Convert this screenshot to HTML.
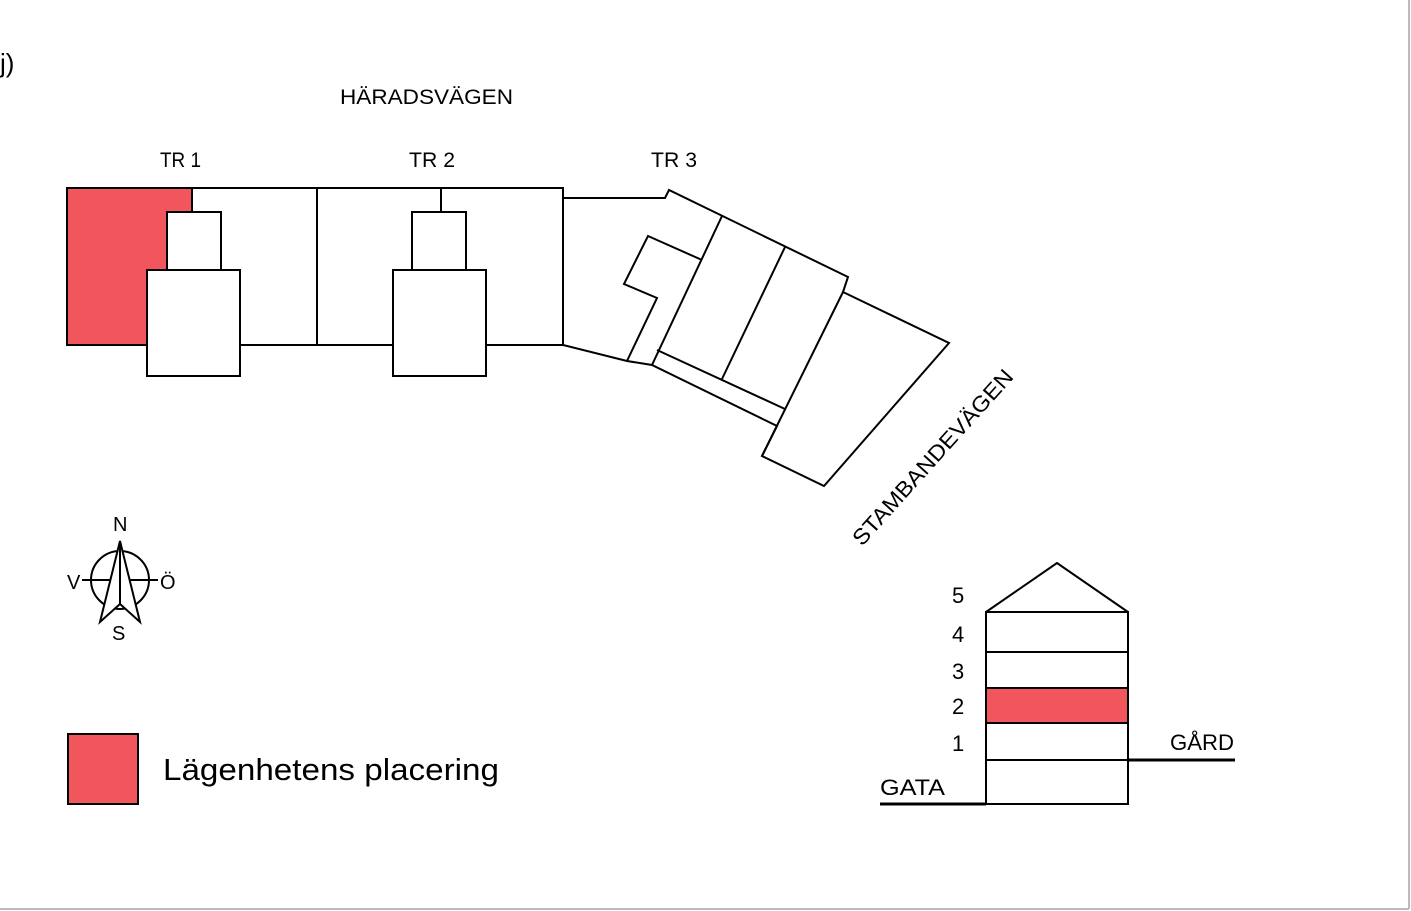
<!DOCTYPE html>
<html><head><meta charset="utf-8"><style>
html,body{margin:0;padding:0;background:#fff;}
svg{display:block;}
text{font-family:"Liberation Sans",sans-serif;fill:#000;}
</style></head><body>
<svg width="1411" height="911" viewBox="0 0 1411 911" xmlns="http://www.w3.org/2000/svg">
<rect x="0" y="0" width="1411" height="911" fill="#fff"/>
<line x1="1409" y1="0" x2="1409" y2="909" stroke="#bbb" stroke-width="2"/>
<line x1="0" y1="909" x2="1409" y2="909" stroke="#bbb" stroke-width="2"/>
<text x="0" y="72" font-size="26">j)</text>
<text x="340" y="104" font-size="21" textLength="173" lengthAdjust="spacingAndGlyphs">HÄRADSVÄGEN</text>
<text x="160" y="167" font-size="21" textLength="41" lengthAdjust="spacingAndGlyphs">TR 1</text>
<text x="409" y="167" font-size="21" textLength="46" lengthAdjust="spacingAndGlyphs">TR 2</text>
<text x="651" y="167" font-size="21" textLength="46" lengthAdjust="spacingAndGlyphs">TR 3</text>
<g fill="none" stroke="#000" stroke-width="2">
<rect x="67" y="188" width="125" height="157" fill="#f0565c" stroke="#000"/>
<polyline points="192,188 563,188 563,345 486,345"/>
<line x1="147" y1="345" x2="67" y2="345"/>
<line x1="240" y1="345" x2="393" y2="345"/>
<line x1="317" y1="188" x2="317" y2="345"/>
<rect x="167" y="212" width="54" height="58" fill="#fff"/>
<rect x="147" y="270" width="93" height="106" fill="#fff"/>
<line x1="441" y1="188" x2="441" y2="212"/>
<rect x="412" y="212" width="54" height="58"/>
<rect x="393" y="270" width="93" height="106"/>
<polygon points="563,198 665,198 669,190 848,277 843,292 949,343 824,486 762,456 777,426 652,365 627,361 563,345"/>
<polyline points="627,361 657,298 624,284 648,236 702,260"/>
<line x1="722" y1="216" x2="652" y2="365"/>
<line x1="657" y1="350" x2="785" y2="409"/>
<line x1="785" y1="247" x2="722" y2="379"/>
<line x1="843" y1="292" x2="762" y2="456"/>
</g>
<text x="0" y="0" font-size="22" textLength="228" lengthAdjust="spacingAndGlyphs" transform="translate(862,547) rotate(-48)">STAMBANDEVÄGEN</text>
<!-- compass -->
<g fill="none" stroke="#000" stroke-width="2">
<circle cx="120" cy="580" r="29"/>
<line x1="82" y1="580" x2="158" y2="580"/>
<polygon points="120,541 140,622 120,604 100,622" fill="#fff"/>
<line x1="120" y1="541" x2="120" y2="604"/>
</g>
<text x="113" y="531" font-size="20">N</text>
<text x="67" y="589" font-size="20">V</text>
<text x="160" y="589" font-size="20">Ö</text>
<text x="112" y="640" font-size="20">S</text>
<!-- legend -->
<rect x="68" y="734" width="70" height="70" fill="#f0565c" stroke="#000" stroke-width="2"/>
<text x="163" y="780" font-size="31" textLength="336" lengthAdjust="spacingAndGlyphs">Lägenhetens placering</text>
<!-- section -->
<g fill="none" stroke="#000" stroke-width="2">
<rect x="986" y="688" width="142" height="35" fill="#f0565c"/>
<rect x="986" y="612" width="142" height="192"/>
<polyline points="986,612 1057,563 1128,612"/>
<line x1="986" y1="652" x2="1128" y2="652"/>
<line x1="986" y1="760" x2="1128" y2="760"/>
</g>
<line x1="880" y1="804" x2="986" y2="804" stroke="#000" stroke-width="3"/>
<line x1="1128" y1="760" x2="1235" y2="760" stroke="#000" stroke-width="3"/>
<g font-size="22">
<text x="952" y="603">5</text>
<text x="952" y="642">4</text>
<text x="952" y="679">3</text>
<text x="952" y="714">2</text>
<text x="952" y="751">1</text>
</g>
<text x="880" y="795" font-size="22" textLength="65" lengthAdjust="spacingAndGlyphs">GATA</text>
<text x="1170" y="750" font-size="22" textLength="64" lengthAdjust="spacingAndGlyphs">GÅRD</text>
</svg>
</body></html>
